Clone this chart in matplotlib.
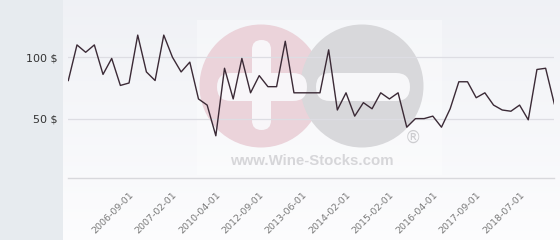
import numpy as np
import matplotlib
matplotlib.use("Agg")
import matplotlib.pyplot as plt
from matplotlib.patches import Circle, FancyBboxPatch, Rectangle

# ---- data ----
prices = [81, 110, 104, 110, 86, 99, 77, 79, 118, 88, 81, 118, 100, 88, 96, 66,
          61, 36, 91, 66, 99, 71, 85, 76, 76, 113, 71, 71, 71, 71, 106, 57,
          71, 52, 63, 58, 71, 66, 71, 43, 50, 50, 52, 43, 58, 80, 80, 67,
          71, 61, 57, 56, 61, 49, 90, 91, 62]
shown_dates = ["2006-09-01", "2007-02-01", "2010-04-01", "2012-09-01", "2013-06-01",
               "2014-02-01", "2015-02-01", "2016-04-01", "2017-09-01", "2018-07-01"]
categories = [""] * len(prices)
for k, d in enumerate(shown_dates):
    categories[7 + 5 * k] = d
y_ticks = [50, 100]
y_tick_labels = ["50 $", "100 $"]

W, H, DPI = 560, 240, 100
fig = plt.figure(figsize=(W / DPI, H / DPI), dpi=DPI)
fig.patch.set_facecolor("#e7ebef")

# background / watermark layer in pixel coordinates
bg = fig.add_axes([0, 0, 1, 1], zorder=0)
bg.axis("off")
grad = np.linspace(0, 1, 200)[:, None]
top = np.array([0.940, 0.946, 0.962])
bot = np.array([0.990, 0.990, 0.995])
img = top[None, None, :] * (1 - grad[:, :, None]) + bot[None, None, :] * grad[:, :, None]
bg.imshow(img, extent=[63, W, H, 0], aspect="auto", zorder=0)
bg.set_xlim(0, W)
bg.set_ylim(H, 0)

bg.add_patch(Rectangle((197, 20), 245, 155, facecolor="white", alpha=0.35, edgecolor="none", zorder=1))
pink = "#ebd3da"
gray = "#d8d8db"
bg.add_patch(Circle((261, 86), 61.5, facecolor=pink, edgecolor="none", zorder=2))
bg.add_patch(Circle((362, 86), 61.5, facecolor=gray, edgecolor="none", zorder=3))
# white cross on pink
bg.add_patch(FancyBboxPatch((252, 40), 19, 90, boxstyle="round,pad=0,rounding_size=9.5",
                            facecolor="#f8f6f9", edgecolor="none", zorder=4))
bg.add_patch(FancyBboxPatch((217, 73), 90, 28, boxstyle="round,pad=0,rounding_size=14",
                            facecolor="#f8f6f9", edgecolor="none", zorder=4))
# white minus on gray
bg.add_patch(FancyBboxPatch((316, 73), 94, 28, boxstyle="round,pad=0,rounding_size=14",
                            facecolor="#f7f7f9", edgecolor="none", zorder=4))
bg.text(312, 161, "www.Wine-Stocks.com", ha="center", va="center", fontsize=10.8,
        fontweight="bold", family="Liberation Sans", color="#d6d6d9", zorder=4)
bg.text(413, 138, "®", ha="center", va="center", fontsize=12, color="#cdcdd0", zorder=4)

# main chart axes
x0, x1 = 68.3, 554.3
ybase, ytop = 180.0, 0.0
ppu = 1.228
ax = fig.add_axes([x0 / W, (H - ybase) / H, (x1 - x0) / W, (ybase - ytop) / H], zorder=2)
ax.patch.set_alpha(0)
for s in ["top", "right", "left"]:
    ax.spines[s].set_visible(False)
ax.spines["bottom"].set_position(("data", 1.5))
ax.spines["bottom"].set_color("#d8d8dc")
ax.spines["bottom"].set_linewidth(1.0)

xs = np.arange(len(prices))
ax.plot(xs, prices, color="#3b2a36", lw=1.0, zorder=3)
ax.set_xlim(0, len(prices) - 1)
ax.set_ylim(0, (ybase - ytop) / ppu)
for v in y_ticks:
    ax.axhline(v, color="#dddde3", lw=0.9, zorder=1)
ax.set_yticks(y_ticks)
ax.set_yticklabels(y_tick_labels, fontsize=8, color="#333333")
ax.tick_params(axis="y", length=0, pad=8)
tick_pos = [i for i, c in enumerate(categories) if c]
ax.set_xticks(tick_pos)
ax.set_xticklabels([categories[i] for i in tick_pos], rotation=45, ha="right",
                   rotation_mode="anchor", fontsize=6.8, color="#7a7a7a")
ax.tick_params(axis="x", length=0, pad=9)

fig.savefig("out.png", dpi=DPI)
